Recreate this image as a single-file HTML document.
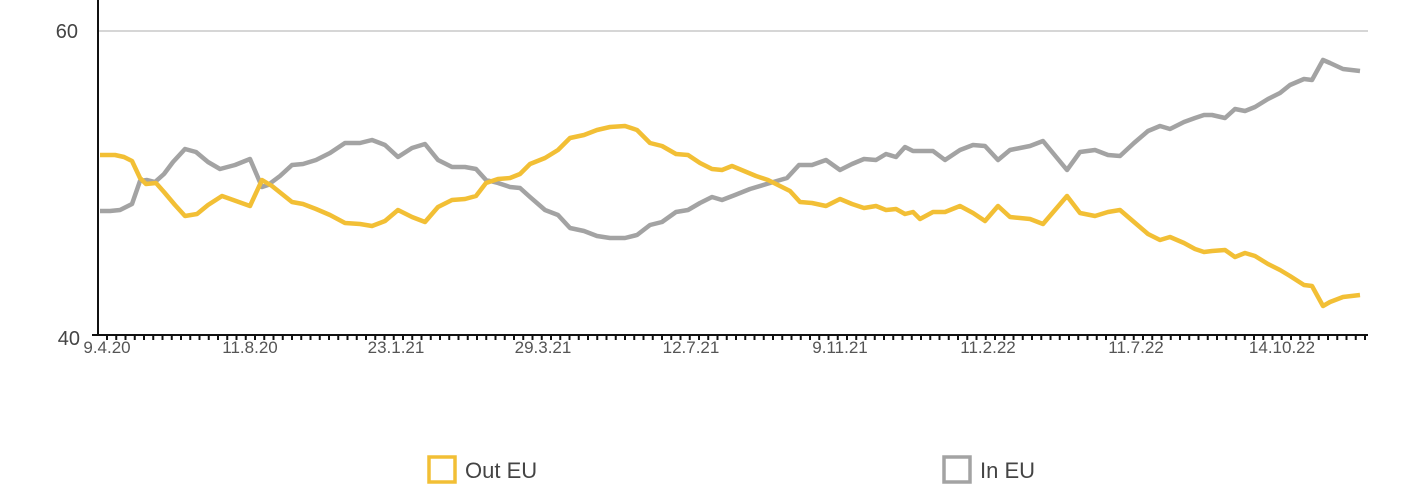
<!DOCTYPE html>
<html><head><meta charset="utf-8"><style>
html,body{margin:0;padding:0;background:#fff;}
svg{display:block;font-family:"Liberation Sans",sans-serif;}
</style></head><body>
<svg width="1423" height="490" viewBox="0 0 1423 490">
<line x1="98" y1="31" x2="1368" y2="31" stroke="#c8c8c8" stroke-width="1.5"/>
<text x="78" y="38" font-size="20" fill="#444" text-anchor="end">60</text>
<text x="80" y="345" font-size="20" fill="#444" text-anchor="end">40</text>
<g stroke="#111" stroke-width="2">
<line x1="98" y1="0" x2="98" y2="336"/>
<line x1="92" y1="335" x2="1368" y2="335"/>
</g>
<g id="ticks" stroke="#111" stroke-width="2"></g>
<g font-size="17" fill="#555" text-anchor="middle">
<text x="107" y="353">9.4.20</text>
<text x="250" y="353">11.8.20</text>
<text x="396" y="353">23.1.21</text>
<text x="543" y="353">29.3.21</text>
<text x="691" y="353">12.7.21</text>
<text x="840" y="353">9.11.21</text>
<text x="988" y="353">11.2.22</text>
<text x="1136" y="353">11.7.22</text>
<text x="1282" y="353">14.10.22</text>
</g>
<polyline fill="none" stroke="#a3a3a3" stroke-width="4.5" stroke-linejoin="round" points="100,211 110,211 120,210 132,204 140,181 147,180 155,182 164,174 173,162 185,149 196,152 208,162 220,169 235,165 250,159 262,187 268,185 280,176 292,165 303,164 316,160 330,153 345,143 360,143 372,140 385,145 398,157 412,148 425,144 438,160 452,167 465,167 476,169 486,180 498,183 510,187 520,188 530,197 545,210 558,215 570,228 584,231 597,236 610,238 625,238 637,235 650,225 662,222 676,212 688,210 700,203 712,197 722,200 735,195 750,189 770,183 787,178 799,165 812,165 826,160 840,170 852,164 864,159 876,160 886,154 896,157 905,147 913,151 920,151 933,151 945,160 960,150 973,145 985,146 998,160 1010,150 1020,148 1030,146 1043,141 1067,170 1080,152 1095,150 1108,155 1120,156 1134,143 1148,131 1160,126 1170,129 1184,122 1195,118 1204,115 1212,115 1225,118 1235,109 1245,111 1255,107 1268,99 1280,93 1290,85 1304,79 1312,80 1323,60 1330,63 1343,69 1360,71"/>
<polyline fill="none" stroke="#f2bf35" stroke-width="4.5" stroke-linejoin="round" points="100,155 115,155 124,157 132,161 140,178 146,184 156,183 164,192 175,205 185,216 197,214 208,205 222,196 236,201 250,206 262,180 272,186 282,194 292,202 303,204 316,209 330,215 345,223 360,224 372,226 385,221 398,210 412,217 425,222 438,207 452,200 465,199 476,196 486,183 498,179 510,178 520,174 530,164 545,158 558,150 570,138 584,135 597,130 610,127 625,126 637,130 650,143 662,146 676,154 688,155 700,163 712,169 722,170 732,166 744,171 756,176 768,180 778,185 790,191 800,202 812,203 826,206 840,199 852,204 864,208 876,206 886,210 896,209 905,214 913,212 920,219 933,212 945,212 960,206 973,213 985,221 998,206 1010,217 1020,218 1030,219 1043,224 1067,196 1080,213 1095,216 1108,212 1120,210 1134,222 1148,234 1160,240 1170,237 1184,243 1195,249 1204,252 1212,251 1225,250 1235,257 1245,253 1255,256 1268,264 1280,270 1290,276 1304,285 1312,286 1323,306 1330,302 1343,297 1360,295"/>
<rect x="429" y="457" width="26" height="25" fill="none" stroke="#f2bf35" stroke-width="3.5"/>
<text x="465" y="478" font-size="22" fill="#444">Out EU</text>
<rect x="944" y="457" width="26" height="25" fill="none" stroke="#a3a3a3" stroke-width="3.5"/>
<text x="980" y="478" font-size="22" fill="#444">In EU</text>
</svg>
<script>
var g=document.getElementById('ticks');
for(var x=107;x<1368;x+=9.25){var l=document.createElementNS('http://www.w3.org/2000/svg','line');l.setAttribute('x1',x);l.setAttribute('x2',x);l.setAttribute('y1',335);l.setAttribute('y2',340);g.appendChild(l);}
</script>
</body></html>
